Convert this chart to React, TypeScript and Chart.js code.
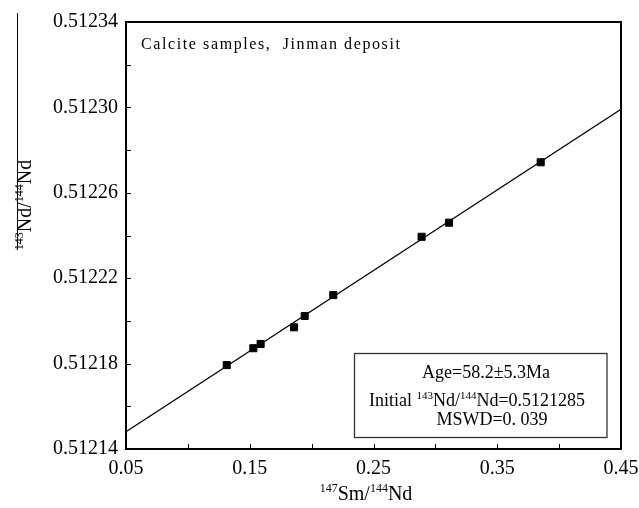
import React, { useEffect, useRef } from 'react';
import { Chart, registerables } from 'chart.js';

Chart.register(...registerables);

// Sample data (147Sm/144Nd vs 143Nd/144Nd)
const SAMPLE_X = [0.1314, 0.1529, 0.1588, 0.1858, 0.1944, 0.2175, 0.2889, 0.311, 0.3851];
const SAMPLE_Y = [0.5121793, 0.5121872, 0.5121892, 0.512197, 0.5122023, 0.5122121, 0.5122394, 0.512246, 0.5122743];

// Isochron line end points
const ISO_X = [0.05, 0.45];
const ISO_Y = [0.5121481, 0.5122991];

// Ticks
const X_TICKS = [0.05, 0.1, 0.15, 0.2, 0.25, 0.3, 0.35, 0.4, 0.45];
const X_LABELS = ['0.05', '', '0.15', '', '0.25', '', '0.35', '', '0.45'];
const Y_TICKS = [0.51214, 0.51216, 0.51218, 0.5122, 0.51222, 0.51224, 0.51226, 0.51228, 0.5123, 0.51232, 0.51234];
const Y_LABELS = ['0.51214', '', '0.51218', '', '0.51222', '', '0.51226', '', '0.51230', '', '0.51234'];

// Texts
const PLOT_NOTE = 'Calcite samples,  Jinman deposit';
const X_TITLE = [{ t: '147', sup: true }, { t: 'Sm/', sup: false }, { t: '144', sup: true }, { t: 'Nd', sup: false }];
const Y_TITLE = [{ t: '143', sup: true }, { t: 'Nd/', sup: false }, { t: '144', sup: true }, { t: 'Nd', sup: false }];
const BOX_LINE1 = [{ t: 'Age=58.2±5.3Ma', sup: false }];
const BOX_LINE2 = [
  { t: 'Initial ', sup: false },
  { t: '143', sup: true },
  { t: 'Nd/', sup: false },
  { t: '144', sup: true },
  { t: 'Nd=0.5121285', sup: false },
];
const BOX_LINE3 = [{ t: 'MSWD=0. 039', sup: false }];

const FONT = '"Liberation Serif", "Times New Roman", serif';

type Part = { t: string; sup: boolean };

function drawRich(ctx: CanvasRenderingContext2D, parts: Part[], cx: number, cy: number, size: number, supSize: number) {
  let total = 0;
  const widths = parts.map((p) => {
    ctx.font = `${p.sup ? supSize : size}px ${FONT}`;
    const w = ctx.measureText(p.t).width;
    total += w;
    return w;
  });
  let x = cx - total / 2;
  ctx.textBaseline = 'alphabetic';
  ctx.textAlign = 'left';
  parts.forEach((p, i) => {
    ctx.font = `${p.sup ? supSize : size}px ${FONT}`;
    ctx.fillText(p.t, x, p.sup ? cy - size * 0.38 : cy);
    x += widths[i];
  });
}

const framePlugin = {
  id: 'framePlugin',
  afterDraw(chart: any) {
    const ctx: CanvasRenderingContext2D = chart.ctx;
    const { left, right, top, bottom } = chart.chartArea;
    const xs = chart.scales.x;
    const ys = chart.scales.y;
    ctx.save();
    ctx.fillStyle = '#000';
    ctx.strokeStyle = '#000';

    // frame
    ctx.lineWidth = 2;
    ctx.strokeRect(left, top, right - left, bottom - top);

    // inward ticks
    ctx.lineWidth = 1;
    ctx.beginPath();
    X_TICKS.forEach((v) => {
      const px = Math.round(xs.getPixelForValue(v)) + 0.5;
      ctx.moveTo(px, bottom);
      ctx.lineTo(px, bottom - 5);
    });
    Y_TICKS.forEach((v) => {
      const py = Math.round(ys.getPixelForValue(v)) + 0.5;
      ctx.moveTo(left, py);
      ctx.lineTo(left + 5, py);
    });
    ctx.stroke();

    // note in plot
    ctx.font = `16px ${FONT}`;
    (ctx as any).letterSpacing = '1.6px';
    ctx.textAlign = 'left';
    ctx.textBaseline = 'middle';
    ctx.fillText(PLOT_NOTE, left + 15, top + 23);
    (ctx as any).letterSpacing = '0px';

    // x title
    drawRich(ctx, X_TITLE, 366, 500, 20, 12);

    // y title
    ctx.save();
    ctx.translate(31, 205);
    ctx.rotate(-Math.PI / 2);
    drawRich(ctx, Y_TITLE, 0, 0, 20, 12);
    ctx.restore();

    // stray vertical line at left
    ctx.beginPath();
    ctx.lineWidth = 1;
    ctx.moveTo(17.5, 13);
    ctx.lineTo(17.5, 250);
    ctx.stroke();

    // result box
    ctx.lineWidth = 1.3;
    ctx.strokeStyle = '#333';
    ctx.strokeRect(354.5, 353.5, 252.5, 84);
    ctx.fillStyle = '#000';
    drawRich(ctx, BOX_LINE1, 486, 378, 18, 11);
    drawRich(ctx, BOX_LINE2, 477, 406, 18, 11);
    drawRich(ctx, BOX_LINE3, 492, 425, 18, 11);

    ctx.restore();
  },
};

export default function App() {
  const ref = useRef<HTMLCanvasElement>(null);

  useEffect(() => {
    if (!ref.current) return;
    const chart = new Chart(ref.current, {
      type: 'scatter',
      data: {
        datasets: [
          {
            type: 'line',
            data: ISO_X.map((x, i) => ({ x, y: ISO_Y[i] })),
            borderColor: '#000',
            borderWidth: 1.3,
            pointRadius: 0,
            fill: false,
          } as any,
          {
            data: SAMPLE_X.map((x, i) => ({ x, y: SAMPLE_Y[i] })),
            pointStyle: 'rect',
            pointRadius: 5,
            borderWidth: 1,
            backgroundColor: '#000',
            borderColor: '#000',
          },
        ],
      },
      options: {
        animation: false,
        responsive: false,
        events: [],
        layout: { padding: { top: 22, right: 18, left: 0, bottom: 0 } },
        plugins: { legend: { display: false }, tooltip: { enabled: false }, title: { display: false } },
        scales: {
          x: {
            type: 'linear',
            min: 0.05,
            max: 0.45,
            grid: { display: false, drawTicks: false },
            border: { display: false },
            afterBuildTicks: (scale: any) => {
              scale.ticks = X_TICKS.map((v) => ({ value: v }));
            },
            afterFit: (scale: any) => {
              scale.height = 59;
              scale.paddingLeft = 0;
              scale.paddingRight = 0;
            },
            ticks: {
              autoSkip: false,
              maxRotation: 0,
              padding: 8,
              color: '#000',
              font: { family: FONT, size: 20 },
              callback: (_v: any, i: number) => X_LABELS[i],
            },
          },
          y: {
            type: 'linear',
            min: 0.51214,
            max: 0.51234,
            grid: { display: false, drawTicks: false },
            border: { display: false },
            afterBuildTicks: (scale: any) => {
              scale.ticks = Y_TICKS.map((v) => ({ value: v }));
            },
            afterFit: (scale: any) => {
              scale.width = 126;
              scale.paddingTop = 0;
              scale.paddingBottom = 0;
            },
            ticks: {
              autoSkip: false,
              padding: 8,
              color: '#000',
              font: { family: FONT, size: 20 },
              callback: (_v: any, i: number) => Y_LABELS[i],
            },
          },
        },
      },
      plugins: [framePlugin],
    });
    return () => chart.destroy();
  }, []);

  return (
    <div style={{ position: 'absolute', left: 0, top: 0, width: 639, height: 508, background: '#fff' }}>
      <canvas ref={ref} width={639} height={508} style={{ display: 'block' }} />
    </div>
  );
}
